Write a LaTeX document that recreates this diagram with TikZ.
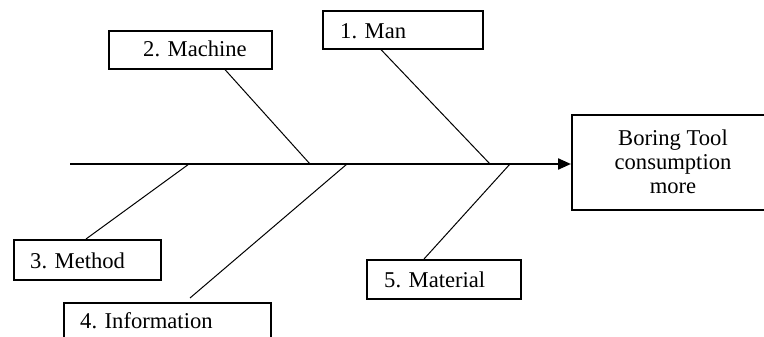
\documentclass[tikz,border=0pt]{standalone}
\usepackage{fontspec}
\setmainfont{Liberation Serif}
\usetikzlibrary{arrows.meta}
\begin{document}
\begin{tikzpicture}[x=1pt,y=-1pt,
  cause/.style={draw, line width=1.6pt, inner sep=0pt, anchor=north west},
  lbl/.style={anchor=base west, inner sep=0pt, font=\fontsize{22.6}{24}\selectfont},
  bone/.style={line width=1pt},
  spine/.style={line width=2.2pt, -{Triangle[length=13pt,width=11pt]}}]
\useasboundingbox (0,0) rectangle (764,337);

% cause boxes
\node[cause, minimum width=160pt, minimum height=38pt] (man)  at (322,10)  {};
\node[cause, minimum width=163pt, minimum height=38pt] (mach) at (108,30)  {};
\node[cause, minimum width=147pt, minimum height=40pt] (meth) at (13,239)  {};
\node[cause, minimum width=207pt, minimum height=45pt] (info) at (63,302)  {};
\node[cause, minimum width=154pt, minimum height=39pt] (matl) at (366,259) {};

% effect box (runs off the right edge)
\node[cause, minimum width=206pt, minimum height=95pt] (effect) at (571,114) {};

% labels
\node[lbl] (manT)  at (340,39)  {1. Man};
\node[lbl] (machT) at (143,57)  {2. Machine};
\node[lbl] (methT) at (30,268)  {3. Method};
\node[lbl] (infoT) at (80,328)  {4. Information};
\node[lbl] (matlT) at (384,287) {5. Material};
\node[inner sep=0pt, align=center, font=\fontsize{22.6}{24}\selectfont] (effT)
  at (673,162) {Boring Tool\\consumption\\more};

% spine
\coordinate (tail) at (70,164);
\draw[spine] (tail) -- (tail -| effect.west);

% joints on the spine
\coordinate (jMeth) at (189,164);
\coordinate (jMach) at (310,164);
\coordinate (jInfo) at (347,164);
\coordinate (jMan)  at (490,164);
\coordinate (jMatl) at (510,164);

% bones
\draw[bone] ([xshift=59pt]man.south west)  -- (jMan);
\draw[bone] ([xshift=117pt]mach.south west) -- (jMach);
\draw[bone] ([xshift=73pt]meth.north west) -- (jMeth);
\draw[bone] ([xshift=127pt,yshift=4pt]info.north west) -- (jInfo);
\draw[bone] ([xshift=58pt]matl.north west) -- (jMatl);
\end{tikzpicture}
\end{document}
